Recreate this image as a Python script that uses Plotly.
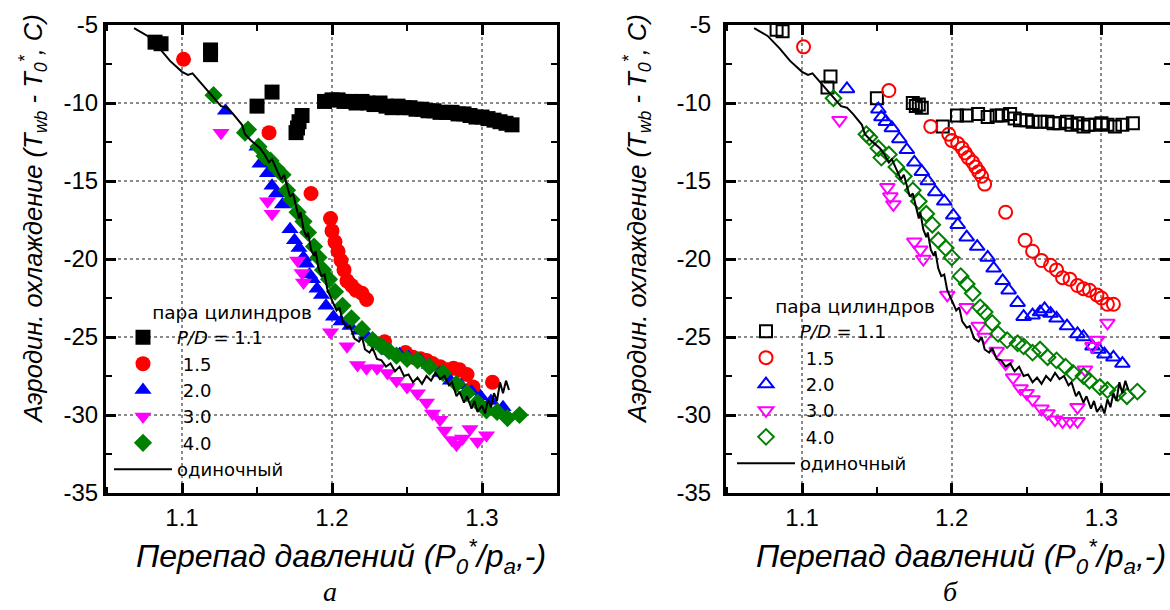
import plotly.graph_objects as go

# ---------------- data ----------------
single_x = [1.068, 1.077, 1.085, 1.092, 1.100, 1.104, 1.107, 1.115, 1.122, 1.126, 1.130, 1.134, 1.140, 1.142,
            1.146, 1.152, 1.155, 1.158, 1.160, 1.163, 1.166, 1.168, 1.170, 1.172, 1.174, 1.176, 1.178, 1.179,
            1.181, 1.183, 1.184, 1.186, 1.188, 1.189, 1.191, 1.193, 1.195, 1.197, 1.199, 1.201, 1.203, 1.205,
            1.207, 1.210, 1.212, 1.215, 1.218, 1.220, 1.222, 1.225, 1.227, 1.230, 1.233, 1.236, 1.239, 1.242,
            1.245, 1.248, 1.251, 1.254, 1.257, 1.260, 1.263, 1.266, 1.269, 1.272, 1.275, 1.278, 1.280, 1.283,
            1.285, 1.288, 1.290, 1.293, 1.295, 1.297, 1.300, 1.302, 1.304, 1.306, 1.308, 1.310, 1.312, 1.314,
            1.316, 1.318]
single_y = [-5.2, -5.7, -6.5, -7.3, -8.0, -8.2, -8.1, -9.0, -9.8, -10.2, -10.3, -10.7, -11.4, -12.0,
            -12.4, -12.9, -13.3, -13.8, -13.6, -14.3, -14.9, -14.6, -15.4, -16.0, -15.8, -16.7, -17.4, -17.0,
            -18.1, -18.6, -18.3, -19.4, -19.8, -19.5, -20.6, -21.1, -21.0, -22.0, -22.4, -22.9, -23.3, -23.1,
            -24.0, -24.4, -24.3, -25.1, -25.3, -25.0, -25.8, -26.0, -25.7, -26.4, -26.5, -26.9, -26.7, -27.2,
            -26.9, -27.5, -27.4, -27.9, -27.6, -28.0, -27.5, -27.8, -27.3, -27.7, -27.5, -28.1, -27.9, -28.8,
            -28.5, -29.2, -28.8, -29.6, -29.1, -29.8, -29.4, -29.9, -29.0, -29.5, -28.6, -29.1, -27.9, -28.6,
            -27.8, -28.4]

# panel a (filled markers)
a_pd11_x = [1.082, 1.086, 1.119, 1.119, 1.160, 1.150, 1.180, 1.178, 1.177, 1.176, 1.195,
            1.200, 1.204, 1.208, 1.212, 1.216, 1.220, 1.224, 1.228, 1.232, 1.236, 1.240, 1.244, 1.248,
            1.252, 1.256, 1.260, 1.264, 1.268, 1.272, 1.276, 1.280, 1.284, 1.288, 1.292, 1.296, 1.300,
            1.304, 1.308, 1.312, 1.316, 1.320]
a_pd11_y = [-6.1, -6.2, -6.6, -6.9, -9.3, -10.2, -10.8, -11.2, -11.6, -11.9, -9.9,
            -9.8, -9.8, -9.9, -9.9, -10.0, -9.9, -10.0, -10.1, -10.0, -10.2, -10.3, -10.2, -10.3,
            -10.3, -10.4, -10.4, -10.5, -10.5, -10.6, -10.6, -10.6, -10.7, -10.7, -10.8, -10.9, -10.9,
            -11.0, -11.1, -11.2, -11.3, -11.4]

a_pd15_x = [1.101, 1.158, 1.186, 1.199, 1.200, 1.202, 1.204, 1.206, 1.208, 1.210, 1.213, 1.216, 1.220,
            1.223, 1.235, 1.249, 1.254, 1.259, 1.263, 1.267, 1.272, 1.277, 1.281, 1.285, 1.290, 1.294, 1.307]
a_pd15_y = [-7.2, -11.9, -15.8, -17.4, -18.2, -18.9, -19.5, -20.1, -20.7, -21.4, -21.7, -22.0, -22.2,
            -22.6, -25.3, -26.0, -26.3, -26.4, -26.5, -26.7, -26.9, -27.1, -27.0, -27.1, -27.4, -28.2, -27.9]

a_pd20_x = [1.129, 1.150, 1.152, 1.157, 1.160, 1.163, 1.167, 1.172, 1.175, 1.178, 1.181, 1.183, 1.185,
            1.187, 1.190, 1.193, 1.196, 1.201, 1.206, 1.212, 1.218, 1.223, 1.229, 1.234, 1.239, 1.245,
            1.251, 1.259, 1.265, 1.272, 1.279, 1.286, 1.293, 1.299, 1.306, 1.314]
a_pd20_y = [-10.5, -12.8, -13.9, -14.5, -15.3, -15.8, -16.5, -18.1, -18.8, -19.3, -19.9, -20.3, -21.0,
            -21.3, -21.9, -22.3, -23.0, -23.7, -24.0, -24.3, -24.6, -24.9, -25.3, -25.6, -25.9, -26.1,
            -26.3, -26.5, -26.8, -27.3, -27.8, -28.1, -28.5, -28.8, -29.1, -29.5]

a_pd30_x = [1.126, 1.157, 1.160, 1.177, 1.180, 1.181, 1.199, 1.210, 1.217, 1.223, 1.230, 1.237, 1.243,
            1.250, 1.257, 1.263, 1.267, 1.272, 1.275, 1.280, 1.283, 1.287, 1.292, 1.297, 1.303]
a_pd30_y = [-11.9, -16.3, -17.1, -20.1, -20.9, -21.5, -24.7, -25.6, -26.8, -27.0, -27.0, -27.3, -27.8,
            -28.2, -28.6, -29.2, -29.9, -30.3, -31.0, -31.6, -31.9, -31.5, -30.9, -31.7, -31.3]

a_pd40_x = [1.121, 1.142, 1.144, 1.151, 1.155, 1.159, 1.163, 1.167, 1.170, 1.173, 1.177, 1.181, 1.184,
            1.188, 1.191, 1.194, 1.198, 1.202, 1.207, 1.213, 1.220, 1.227, 1.233, 1.238, 1.243, 1.250,
            1.257, 1.265, 1.274, 1.283, 1.290, 1.297, 1.303, 1.310, 1.317, 1.325]
a_pd40_y = [-9.5, -11.9, -11.7, -12.8, -13.4, -13.7, -14.2, -14.6, -15.6, -16.2, -17.0, -17.6, -18.3,
            -19.2, -19.9, -20.7, -21.3, -22.1, -23.0, -23.8, -24.5, -25.2, -25.6, -25.9, -26.2, -26.4,
            -26.5, -26.9, -27.3, -28.0, -28.6, -29.2, -29.7, -29.8, -30.2, -30.0]

# panel b (open markers)
b_pd11_x = [1.083, 1.087, 1.119, 1.117, 1.150, 1.174, 1.176, 1.178, 1.180, 1.194,
            1.2035, 1.210, 1.2176, 1.224, 1.230, 1.2336, 1.239, 1.242, 1.2456, 1.250, 1.254, 1.259,
            1.264, 1.268, 1.272, 1.277, 1.280, 1.284, 1.288, 1.291, 1.296, 1.300, 1.304, 1.309,
            1.314, 1.321]
b_pd11_y = [-5.3, -5.4, -8.3, -9.0, -9.7, -10.0, -10.2, -10.1, -10.3, -11.5,
            -10.8, -10.8, -10.7, -10.9, -10.8, -10.8, -10.7, -11.0, -11.1, -11.1, -11.2, -11.2,
            -11.2, -11.3, -11.3, -11.2, -11.4, -11.3, -11.5, -11.4, -11.4, -11.3, -11.4, -11.5,
            -11.4, -11.3]

b_pd15_x = [1.101, 1.158, 1.186, 1.198, 1.200, 1.204, 1.207, 1.209, 1.211, 1.214, 1.216, 1.218, 1.220,
            1.222, 1.236, 1.249, 1.254, 1.260, 1.266, 1.270, 1.274, 1.279, 1.284, 1.288, 1.292, 1.297,
            1.300, 1.304, 1.308]
b_pd15_y = [-6.4, -9.2, -11.5, -12.0, -12.4, -12.6, -12.9, -13.2, -13.5, -13.8, -14.1, -14.4, -14.7,
            -15.2, -17.0, -18.8, -19.5, -20.1, -20.4, -20.7, -21.2, -21.3, -21.7, -21.9, -22.0, -22.3,
            -22.5, -22.9, -22.9]

b_pd20_x = [1.130, 1.151, 1.153, 1.156, 1.160, 1.165, 1.170, 1.175, 1.180, 1.184, 1.189, 1.195, 1.201,
            1.204, 1.210, 1.217, 1.224, 1.228, 1.234, 1.238, 1.244, 1.248, 1.254, 1.259, 1.262, 1.266,
            1.270, 1.277, 1.284, 1.288, 1.294, 1.298, 1.302, 1.308, 1.314]
b_pd20_y = [-9.1, -10.4, -10.9, -11.2, -11.6, -12.3, -13.0, -13.8, -14.4, -15.0, -15.7, -16.3, -17.2,
            -17.8, -18.6, -19.2, -19.9, -20.6, -21.4, -22.0, -22.8, -23.7, -23.6, -23.4, -23.2, -23.5,
            -23.8, -24.3, -24.8, -25.0, -25.6, -25.8, -26.1, -26.3, -26.7]

b_pd30_x = [1.125, 1.157, 1.159, 1.161, 1.175, 1.179, 1.181, 1.197, 1.210, 1.218, 1.222, 1.230, 1.236,
            1.241, 1.246, 1.250, 1.254, 1.260, 1.264, 1.269, 1.274, 1.279, 1.284, 1.284, 1.289, 1.294,
            1.297, 1.304]
b_pd30_y = [-11.1, -15.4, -16.0, -16.5, -18.9, -19.4, -20.0, -22.3, -23.1, -24.3, -25.0, -25.9, -26.7,
            -27.6, -28.3, -28.6, -29.0, -29.6, -29.9, -30.3, -30.4, -30.4, -30.4, -29.5, -27.1, -25.6,
            -25.2, -24.1]

b_pd40_x = [1.121, 1.143, 1.145, 1.151, 1.153, 1.158, 1.163, 1.168, 1.174, 1.178, 1.183, 1.187, 1.191,
            1.196, 1.200, 1.206, 1.210, 1.214, 1.219, 1.222, 1.227, 1.231, 1.237, 1.244, 1.248, 1.254,
            1.259, 1.264, 1.270, 1.276, 1.281, 1.288, 1.292, 1.299, 1.304, 1.311, 1.317, 1.324]
b_pd40_y = [-9.7, -12.0, -12.2, -12.9, -13.5, -13.3, -14.1, -14.7, -15.6, -16.3, -17.1, -17.8, -18.8,
            -19.3, -19.9, -21.1, -21.6, -22.2, -23.1, -23.4, -24.1, -24.8, -25.2, -25.4, -25.6, -26.0,
            -25.8, -26.3, -26.5, -26.9, -27.3, -27.5, -27.8, -28.2, -28.4, -28.6, -28.8, -28.5]

series_names = ["<i>P/D</i> = 1.1", "\u00a01.5", "\u00a02.0", "\u00a03.0", "\u00a04.0"]
single_name = "одиночный"
legend_title = "пара цилиндров"
x_ticks = [1.1, 1.2, 1.3]
x_ticktext = ["1.1", "1.2", "1.3"]
y_ticks = [-35, -30, -25, -20, -15, -10, -5]
y_ticktext = ["-35", "-30", "-25", "-20", "-15", "-10", "-5"]

# ---------------- styles ----------------
colors = ["#000000", "#FF0000", "#0000FF", "#FF00FF", "#008000"]
symbols_a = ["square", "circle", "triangle-up", "triangle-down", "diamond"]
symbols_b = ["square-open", "circle-open", "triangle-up-open", "triangle-down-open", "diamond-open"]
sizes_a = [15, 15, 15, 15, 14]
sizes_b = [12, 13, 13, 13, 12]

FONT = "Liberation Sans"
LFONT = "DejaVu Sans"

fig = go.Figure()

a_data = [(a_pd11_x, a_pd11_y), (a_pd15_x, a_pd15_y), (a_pd20_x, a_pd20_y),
          (a_pd30_x, a_pd30_y), (a_pd40_x, a_pd40_y)]
b_data = [(b_pd11_x, b_pd11_y), (b_pd15_x, b_pd15_y), (b_pd20_x, b_pd20_y),
          (b_pd30_x, b_pd30_y), (b_pd40_x, b_pd40_y)]

for i, (xs, ys) in enumerate(a_data):
    fig.add_trace(go.Scatter(x=xs, y=ys, mode="markers", name=series_names[i],
                             marker=dict(symbol=symbols_a[i], size=sizes_a[i], color=colors[i],
                                         line=dict(width=0)),
                             xaxis="x", yaxis="y", legend="legend", cliponaxis=False))
fig.add_trace(go.Scatter(x=single_x, y=single_y, mode="lines", name=single_name,
                         line=dict(color="black", width=2), xaxis="x", yaxis="y",
                         legend="legend", cliponaxis=False))

for i, (xs, ys) in enumerate(b_data):
    fig.add_trace(go.Scatter(x=xs, y=ys, mode="markers", name=series_names[i],
                             marker=dict(symbol=symbols_b[i], size=sizes_b[i], color=colors[i],
                                         line=dict(width=2, color=colors[i])),
                             xaxis="x2", yaxis="y2", legend="legend2", cliponaxis=False))
fig.add_trace(go.Scatter(x=single_x, y=single_y, mode="lines", name=single_name,
                         line=dict(color="black", width=2), xaxis="x2", yaxis="y2",
                         legend="legend2", cliponaxis=False))

W, H = 1170, 610


def axis_common():
    return dict(showline=True, linecolor="black", linewidth=3, mirror="allticks",
                ticks="inside", ticklen=10, tickwidth=3, tickcolor="black",
                showgrid=True, gridcolor="#8a8a8a", griddash="dot", gridwidth=1.5,
                zeroline=False, automargin=False,
                tickfont=dict(family=FONT, size=24, color="black"))


def xaxis(domain, rng, anchor):
    d = axis_common()
    d.update(domain=domain, range=rng, tickmode="array", tickvals=x_ticks, ticktext=x_ticktext,
             anchor=anchor, ticklabelstandoff=1,
             minor=dict(ticks="inside", ticklen=6, tickwidth=2, tickcolor="black",
                        showgrid=False, tick0=1.05, dtick=0.1))
    return d


def yaxis(anchor, standoff):
    d = axis_common()
    d.update(domain=[117 / H, 585 / H], range=[-35, -5], tickmode="array", tickvals=y_ticks,
             ticktext=y_ticktext, anchor=anchor, ticklabelstandoff=standoff,
             minor=dict(ticks="inside", ticklen=6, tickwidth=2, tickcolor="black",
                        showgrid=False, tick0=-32.5, dtick=5))
    return d


legend_common = dict(xanchor="left", yanchor="top", bgcolor="rgba(0,0,0,0)",
                     font=dict(family=LFONT, size=18, color="black"),
                     title=dict(text="\u00a0" * 7 + legend_title,
                                font=dict(family=LFONT, size=18.5, color="black")),
                     itemwidth=58, tracegroupgap=0, traceorder="normal")

fig.update_layout(
    width=W, height=H, margin=dict(l=0, r=0, t=0, b=0, autoexpand=False),
    paper_bgcolor="white", plot_bgcolor="white", showlegend=True,
    xaxis=xaxis([106 / W, 557 / W], [1.0493, 1.35], "y"),
    yaxis=yaxis("x", 0),
    xaxis2=xaxis([726 / W, 1.0], [1.0492, 1.3458], "y2"),
    yaxis2=yaxis("x2", 7),
    legend=dict(legend_common, x=109 / W, y=1 - 295 / H),
    legend2=dict(legend_common, x=732 / W, y=1 - 289 / H),
)

ytitle = ("<i>Аэродин. охлаждение (T<sub>wb</sub> - T<sub>0</sub><sup>*</sup>, C)</i>")
xtitle = "<i>Перепад давлений (P<sub>0</sub><sup>*</sup>/p<sub>a</sub>,-)</i>"

ann = []
for cx in (33, 637):
    ann.append(dict(x=cx / W, y=1 - 219 / H, xref="paper", yref="paper", text=ytitle,
                    textangle=-90, showarrow=False,
                    font=dict(family=FONT, size=25.5, color="black"),
                    xanchor="center", yanchor="middle"))
for cx in (341, 961):
    ann.append(dict(x=cx / W, y=1 - 556 / H, xref="paper", yref="paper", text=xtitle,
                    showarrow=False, font=dict(family=FONT, size=32, color="black"),
                    xanchor="center", yanchor="middle"))
for cx, lab in ((330, "а"), (950, "б")):
    ann.append(dict(x=cx / W, y=1 - 591 / H, xref="paper", yref="paper", text="<i>" + lab + "</i>",
                    showarrow=False, font=dict(family="Liberation Serif", size=28, color="black"),
                    xanchor="center", yanchor="middle"))
fig.update_layout(annotations=ann)

fig.write_html("out.html", config={"displayModeBar": False},
               post_script="document.body.style.margin='0px';")
